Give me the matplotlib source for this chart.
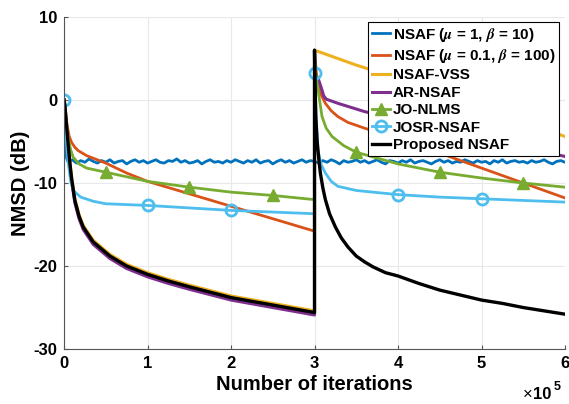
import numpy as np
import matplotlib
matplotlib.use('Agg')
import matplotlib.pyplot as plt

plt.rcParams['font.family'] = ['Liberation Sans', 'DejaVu Sans']
plt.rcParams['font.weight'] = 'bold'
plt.rcParams['mathtext.fontset'] = 'stix'
plt.rcParams['axes.unicode_minus'] = False

# x in units of 1e5 iterations, y in dB
# NSAF (mu=1, beta=10) - noisy steady state around -7.4 dB
nsaf1_x = np.concatenate(([0.0, 0.03], np.arange(1, 121) * 0.05))
nsaf1_y = [0.0, -7.0,
           -7.5, -7.2, -7.6, -7.3, -7.5, -7.1, -7.4, -7.6, -7.3, -7.5,
           -7.2, -7.6, -7.4, -7.3, -7.7, -7.4, -7.2, -7.5, -7.3, -7.6,
           -7.4, -7.2, -7.5, -7.6, -7.3, -7.4, -7.1, -7.5, -7.3, -7.6,
           -7.5, -7.3, -7.7, -7.4, -7.2, -7.5, -7.4, -7.6, -7.3, -7.5,
           -7.2, -7.4, -7.6, -7.3, -7.5, -7.2, -7.6, -7.4, -7.3, -7.7,
           -7.4, -7.2, -7.5, -7.3, -7.6, -7.4, -7.2, -7.5, -7.3, -7.4,
           -7.6, -7.3, -7.5, -7.2, -7.4, -7.7, -7.3, -7.5, -7.4, -7.2,
           -7.5, -7.3, -7.6, -7.4, -7.2, -7.5, -7.7, -7.3, -7.4, -7.6,
           -7.3, -7.5, -7.2, -7.6, -7.4, -7.3, -7.5, -7.7, -7.4, -7.2,
           -7.5, -7.3, -7.6, -7.4, -7.5, -7.2, -7.4, -7.6, -7.3, -7.5,
           -7.4, -7.7, -7.3, -7.5, -7.2, -7.6, -7.4, -7.3, -7.5, -7.4,
           -7.6, -7.3, -7.5, -7.4, -7.2, -7.5, -7.7, -7.4, -7.3, -7.5]

# NSAF (mu=0.1, beta=100)
nsaf2_x = [0, 0.03, 0.06, 0.09, 0.13, 0.17, 0.27, 0.5, 0.75, 1, 1.5, 2, 2.5, 3,
           3, 3.02, 3.04, 3.08, 3.13, 3.2, 3.28, 3.4, 3.6, 4, 4.5, 5, 5.5, 6]
nsaf2_y = [0, -2.6, -4.3, -5.1, -5.7, -6.1, -6.7, -7.6, -8.8, -9.8, -11.3, -12.8, -14.3, -15.8,
           6, 3.5, 2.0, 0.6, -0.4, -1.3, -2.0, -2.7, -3.4, -4.6, -6.4, -8.2, -10, -11.8]

# Proposed NSAF
prop_x = [0, 0.01, 0.03, 0.05, 0.07, 0.09, 0.13, 0.18, 0.23, 0.35, 0.55, 0.75,
          1, 1.25, 1.5, 2, 2.5, 3,
          3, 3.005, 3.015, 3.03, 3.05, 3.07, 3.1, 3.13, 3.18, 3.25, 3.32, 3.4,
          3.5, 3.6, 3.7, 3.85, 4, 4.25, 4.5, 4.75, 5, 5.25, 5.5, 5.75, 6]
prop_y = [0, -0.6, -3, -5.4, -7.6, -9.4, -12.1, -14, -15.3, -17.1, -18.8, -20,
          -21, -21.8, -22.5, -23.8, -24.7, -25.6,
          6, 2, -2, -4.8, -7, -8.8, -10.6, -12, -13.7, -15.3, -16.6, -17.7,
          -18.8, -19.5, -20.1, -20.8, -21.2, -22.1, -22.9, -23.5, -24.1, -24.5, -25, -25.4, -25.8]

# NSAF-VSS
vss_x = [0, 0.01, 0.03, 0.05, 0.07, 0.09, 0.13, 0.18, 0.23, 0.35, 0.55, 0.75,
         1, 1.25, 1.5, 2, 2.5, 3,
         3, 3.5, 4, 4.5, 5, 5.5, 6]
vss_y = [0, -0.5, -2.9, -5.2, -7.4, -9.2, -11.9, -13.8, -15.1, -16.9, -18.6, -19.8,
         -20.8, -21.6, -22.3, -23.6, -24.5, -25.4,
         6, 4.2, 2.6, 0.9, -0.8, -2.6, -4.4]

# AR-NSAF
ar_x = [0, 0.01, 0.03, 0.05, 0.07, 0.09, 0.13, 0.18, 0.23, 0.35, 0.55, 0.75,
        1, 1.25, 1.5, 2, 2.5, 3,
        3, 3.02, 3.05, 3.08, 3.11, 3.14, 3.28, 3.6, 4, 4.5, 5, 5.5, 6]
ar_y = [0, -0.7, -3.2, -5.7, -7.9, -9.7, -12.4, -14.3, -15.6, -17.4, -19.1, -20.3,
        -21.3, -22.1, -22.8, -24.1, -25.0, -25.9,
        3.5, 2.9, 2.4, 1.5, 0.5, 0.1, -0.4, -1.4, -2.3, -3.4, -4.5, -5.7, -6.8]

# JO-NLMS
jo_x = [0, 0.02, 0.05, 0.08, 0.11, 0.18, 0.27, 0.5, 1, 1.5, 2, 2.5, 3,
        3, 3.01, 3.03, 3.06, 3.09, 3.14, 3.21, 3.35, 3.5, 4, 4.5, 5, 5.5, 6]
jo_y = [0, -2.5, -4.6, -6.0, -6.9, -7.7, -8.2, -8.7, -9.8, -10.5, -11.1, -11.5, -12,
        6, 3.5, 2, 0, -2, -3.4, -4.4, -5.5, -6.3, -7.7, -8.7, -9.4, -10, -10.5]
jo_marks = [0.5, 1.5, 2.5, 3.5, 4.5, 5.5]

# JOSR-NSAF
josr_x = [0, 0.02, 0.05, 0.08, 0.11, 0.2, 0.35, 0.5, 1, 1.5, 2, 2.5, 3,
          3, 3.02, 3.04, 3.08, 3.13, 3.2, 3.28, 3.5, 4, 4.5, 5, 5.5, 6]
josr_y = [0, -4, -7.5, -9.8, -10.9, -11.7, -12.2, -12.5, -12.7, -13.0, -13.3, -13.5, -13.7,
          3.3, -2, -6, -7.8, -8.8, -9.8, -10.4, -10.9, -11.4, -11.7, -11.9, -12.1, -12.3]
josr_marks = [0, 1, 2, 3, 4, 5]


def mark_idx(xs, marks):
    xs = np.asarray(xs)
    idx = []
    for m in marks:
        hits = np.where(np.isclose(xs, m))[0]
        # at the jump (x=3) the marker sits on the restarted value
        idx.append(int(hits[-1]))
    return idx


fig = plt.figure(figsize=(5.69, 4.04), dpi=100)
ax = fig.add_axes([0.1125, 0.136, 0.8805, 0.822])

lw = 2.0
ax.plot(nsaf1_x, nsaf1_y, color='#0072BD', lw=lw, label=r'NSAF ($\mu$ = 1, $\beta$ = 10)')
ax.plot(nsaf2_x, nsaf2_y, color='#D95319', lw=lw, label=r'NSAF ($\mu$ = 0.1, $\beta$ = 100)')
ax.plot(vss_x, vss_y, color='#EDB120', lw=2.2, label='NSAF-VSS')
ax.plot(ar_x, ar_y, color='#7E2F8E', lw=2.2, label='AR-NSAF')
ax.plot(jo_x, jo_y, color='#77AC30', lw=lw, marker='^', ms=9,
        markevery=mark_idx(jo_x, jo_marks), label='JO-NLMS')
ax.plot(josr_x, josr_y, color='#4DBEEE', lw=lw, marker='o', ms=8, mfc='none', mew=2,
        markevery=mark_idx(josr_x, josr_marks), label='JOSR-NSAF')
ax.plot(prop_x, prop_y, color='black', lw=2.4, label='Proposed NSAF')

ax.set_xlim(0, 6)
ax.set_ylim(-30, 10)
ax.set_xticks(range(0, 7))
ax.set_yticks([-30, -20, -10, 0, 10])
ax.tick_params(labelsize=12, direction='in', length=3, color='#555555', pad=5)
for lab in ax.get_xticklabels() + ax.get_yticklabels():
    lab.set_fontweight('bold')
ax.grid(True, color='#e8e8e8', lw=0.8)
ax.set_axisbelow(True)
for s in ['top', 'right']:
    ax.spines[s].set_visible(False)
for s in ['left', 'bottom']:
    ax.spines[s].set_color('#555555')
    ax.spines[s].set_linewidth(0.8)

ax.set_xlabel('Number of iterations', fontsize=14.5, fontweight='bold', labelpad=3)
ax.set_ylabel('NMSD (dB)', fontsize=14.5, fontweight='bold', labelpad=2)

# x10^5 exponent label at the bottom right
base_y = 1 - 399 / 404
fig.text(533 / 569, base_y, '\u00d7', ha='right', va='baseline',
         fontsize=12, fontweight='normal')
fig.text(533 / 569, base_y, '10', ha='left', va='baseline',
         fontsize=12, fontweight='bold')
fig.text(554 / 569, 1 - 390 / 404, '5', ha='left', va='baseline',
         fontsize=9, fontweight='bold')

leg = ax.legend(loc='upper right', bbox_to_anchor=(0.988, 0.985), borderaxespad=0,
                fontsize=11.0, handlelength=1.2, handletextpad=0.15, labelspacing=0.22,
                borderpad=0.25, fancybox=False, framealpha=1, edgecolor='black')
leg.get_frame().set_linewidth(0.8)
for t in leg.get_texts():
    t.set_fontweight('bold')

fig.savefig('out.png', dpi=100)
